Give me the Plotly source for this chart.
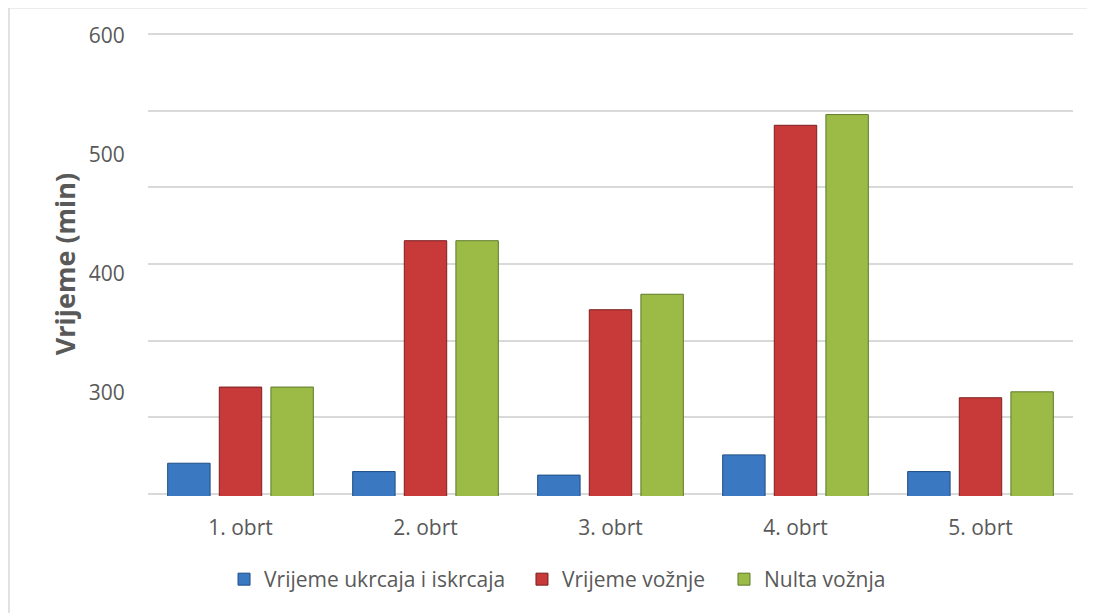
import numpy as np
import plotly.graph_objects as go

categories = ["1. obrt", "2. obrt", "3. obrt", "4. obrt", "5. obrt"]
series_names = ["Vrijeme ukrcaja i iskrcaja", "Vrijeme vožnje", "Nulta vožnja"]
ukrcaj = [241, 234, 231, 248, 234]
voznja = [305, 428, 370, 525, 296]
nulta = [305, 428, 383, 534, 301]
y_tick_vals = [300, 400, 500, 600]
y_tick_text = ["300", "400", "500", "600"]

fill_colors = ["#3a78c2", "#c83a3a", "#9bbb46"]
line_colors = ["#1f4e85", "#7a1f1f", "#5f7a2a"]
legend_ids = ["legend", "legend2", "legend3"]
legend_x = [0.0822, 0.4043, 0.6227]

FONT = "Open Sans"
GRAY = "#595959"

fig = go.Figure()
# empty helper trace so the gridline axis (yaxis2) is drawn
fig.add_trace(go.Scatter(x=categories, y=[None] * len(categories), yaxis="y2",
                         mode="none", showlegend=False, hoverinfo="skip"))
for name, vals, fc, lc, lg in zip(series_names, [ukrcaj, voznja, nulta],
                                  fill_colors, line_colors, legend_ids):
    fig.add_trace(go.Bar(
        x=categories, y=vals, name=name, legend=lg,
        marker=dict(color=fc, line=dict(color=lc, width=1)),
    ))

y_range = [213.45, 603.4]
grid_vals = list(np.linspace(215.1, 601.7, 7))

legend_common = dict(orientation="h", xanchor="left", y=-0.18, yanchor="middle",
                     font=dict(family=FONT, size=21, color=GRAY), itemwidth=30,
                     bgcolor="rgba(0,0,0,0)")

# page body has an 8px margin; figure is sized to fit inside the window
fig.update_layout(
    width=1087, height=605,
    margin=dict(l=140, r=22, t=24, b=117),
    paper_bgcolor="white", plot_bgcolor="white",
    barmode="group", bargap=0.163, bargroupgap=0.178,
    font=dict(family=FONT, size=21, color=GRAY),
    showlegend=True,
    legend=dict(x=legend_x[0], **legend_common),
    legend2=dict(x=legend_x[1], **legend_common),
    legend3=dict(x=legend_x[2], **legend_common),
    xaxis=dict(showgrid=False, showline=False, zeroline=False,
               ticks="outside", ticklen=13, tickcolor="rgba(0,0,0,0)",
               tickfont=dict(family=FONT, size=21, color=GRAY)),
    yaxis=dict(range=y_range, showgrid=False, zeroline=False, showline=False,
               tickmode="array", tickvals=y_tick_vals, ticktext=y_tick_text,
               ticks="outside", ticklen=18, tickcolor="rgba(0,0,0,0)",
               tickfont=dict(family=FONT, size=21, color=GRAY),
               title=dict(text="<b>Vrijeme (min)</b>", standoff=5,
                          font=dict(family=FONT, size=27, color=GRAY))),
    yaxis2=dict(range=y_range, overlaying="y", side="left", showticklabels=False,
                tickmode="array", tickvals=grid_vals, ticks="",
                showgrid=True, gridcolor="#d9d9d9", gridwidth=1.5,
                zeroline=False, showline=False),
    shapes=[dict(type="rect", xref="paper", yref="paper",
                 x0=-0.1503, x1=1.2, y0=-0.4, y1=1.052,
                 line=dict(color="#d9d9d9", width=1.5), fillcolor="rgba(0,0,0,0)",
                 layer="below")],
)

fig.write_html("out.html")
